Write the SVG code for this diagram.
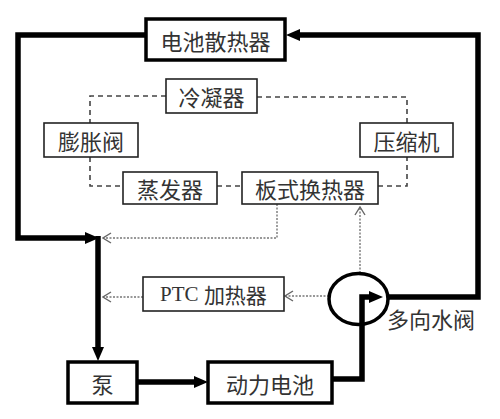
<svg xmlns="http://www.w3.org/2000/svg" width="500" height="419" viewBox="0 0 500 419">
<defs>
<style>
.thick{fill:none;stroke:#000;stroke-width:5.5;stroke-linejoin:miter}
.tbox{fill:#fff;stroke:#000;stroke-width:3.5}
.box{fill:#fff;stroke:#222;stroke-width:1.6}
.dash{fill:none;stroke:#444;stroke-width:1.6;stroke-dasharray:5,4}
.dot{fill:none;stroke:#777;stroke-width:1.4;stroke-dasharray:2,1.5}
.t{font-family:"Noto Sans CJK SC","Liberation Serif",serif;font-size:22px;fill:#333;text-anchor:middle;dominant-baseline:central}
.p{font-family:"Liberation Serif","Noto Sans CJK SC",serif;font-size:21px;fill:#333;text-anchor:middle;dominant-baseline:central}
</style>
<marker id="fa" viewBox="0 0 14 12" refX="4" refY="6" markerWidth="14" markerHeight="12" markerUnits="userSpaceOnUse" orient="auto">
<path d="M0,0 L14,6 L0,12 z" fill="#000"/>
</marker>
<marker id="oa" viewBox="0 0 10 12" refX="9" refY="6" markerWidth="10" markerHeight="12" markerUnits="userSpaceOnUse" orient="auto">
<path d="M1,1 L9,6 L1,11" fill="none" stroke="#666" stroke-width="1.4"/>
</marker>
</defs>
<rect width="500" height="419" fill="#fff"/>
<g id="connectors">
<path class="dash" d="M166,96 H90 V123"/>
<path class="dash" d="M90,157 V186 H123"/>
<path class="dash" d="M217,186 H242"/>
<path class="dash" d="M378,186 H407 V156"/>
<path class="dash" d="M407,123 V97 H257"/>
<path class="dot" d="M277,204 V238 H103" marker-end="url(#oa)"/>
<path class="dot" d="M360,273 V207" marker-end="url(#oa)"/>
<path class="dot" d="M329,296 H285" marker-end="url(#oa)"/>
<path class="dot" d="M143,297 H103" marker-end="url(#oa)"/>
<path class="thick" d="M146,35 H18 V238 H89" marker-end="url(#fa)"/>
<path class="thick" d="M98,236 V351" marker-end="url(#fa)"/>
<path class="thick" d="M137,382 H198" marker-end="url(#fa)"/>
<path class="thick" d="M332,379 H362 V297 H373" marker-end="url(#fa)"/>
<path class="thick" d="M388,297 H478 V35 H296" marker-end="url(#fa)"/>
</g>
<g id="valve">
<ellipse cx="358.5" cy="299" rx="29.5" ry="25.5" fill="none" stroke="#000" stroke-width="3.5"/>
<text class="t" x="431" y="318" font-size="19">多向水阀</text>
</g>
<g id="radiator"><rect class="tbox" x="146" y="19" width="139" height="41"/><text class="t" x="215.5" y="40">电池散热器</text></g>
<g id="condenser"><rect class="box" x="166" y="79" width="91" height="34"/><text class="t" x="211.5" y="96">冷凝器</text></g>
<g id="expansion"><rect class="box" x="44" y="123" width="94" height="34"/><text class="t" x="91" y="140">膨胀阀</text></g>
<g id="compressor"><rect class="box" x="360" y="123" width="93" height="34"/><text class="t" x="406.5" y="140">压缩机</text></g>
<g id="evaporator"><rect class="box" x="123" y="172" width="94" height="32"/><text class="t" x="170" y="188">蒸发器</text></g>
<g id="plate"><rect class="box" x="242" y="172" width="136" height="32"/><text class="t" x="310" y="188">板式换热器</text></g>
<g id="ptc"><rect class="box" x="143" y="277" width="141" height="34"/><text class="p" x="213.5" y="294">PTC <tspan font-family="Noto Sans CJK SC, sans-serif">加热器</tspan></text></g>
<g id="pump"><rect class="tbox" x="68" y="362" width="69" height="41"/><text class="t" x="102.5" y="383">泵</text></g>
<g id="battery"><rect class="tbox" x="208" y="362" width="124" height="41"/><text class="t" x="270" y="383">动力电池</text></g>
</svg>
